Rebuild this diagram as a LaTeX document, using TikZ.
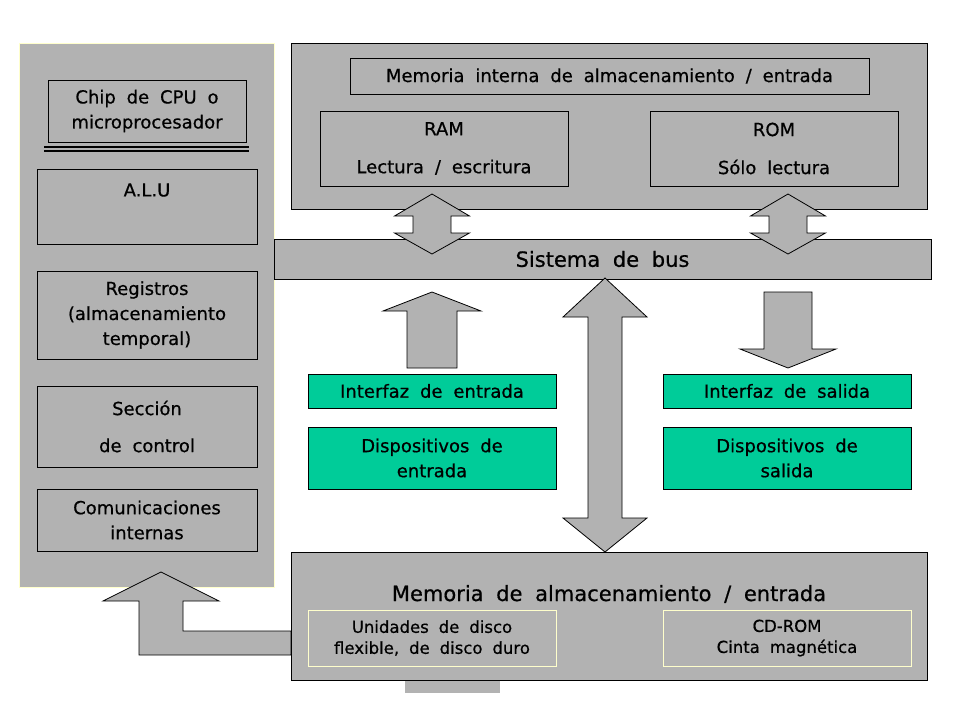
\documentclass[tikz,border=0pt]{standalone}
\usepackage{fontspec}
\setmainfont{DejaVu Sans}[WordSpace=1.9, FakeBold=0.6]
\definecolor{boxgray}{HTML}{B2B2B2}
\definecolor{devgreen}{HTML}{00CC99}
\definecolor{paleyellow}{HTML}{FFFFCC}
\begin{document}
\begin{tikzpicture}[
		x=1pt, y=-1pt,
		every node/.style={align=center, inner sep=0pt, font=\fontsize{18}{25}\selectfont},
		panel/.style={rectangle, draw=paleyellow, fill=boxgray, line width=0.8pt},
		graybox/.style={rectangle, draw=black, fill=boxgray, line width=0.8pt},
		greenbox/.style={rectangle, draw=black, fill=devgreen, line width=0.8pt},
		diskbox/.style={rectangle, draw=paleyellow, line width=0.8pt, font=\fontsize{16.5}{21}\selectfont},
		bigtext/.style={font=\fontsize{21}{25}\selectfont},
		blockarrow/.style={draw=black, fill=boxgray, line width=0.8pt, line join=miter}
	]
	\useasboundingbox (0,0) rectangle (960,720);

	% CPU side
	\node[panel, minimum width=255pt, minimum height=544pt] (cpu) at (146.5,315) {};
	\node[graybox, minimum width=198pt, minimum height=62pt] (chip) at (147,111) {Chip de CPU o\\microprocesador};
	\draw[line width=2pt] (44,147) -- (249,147);
	\draw[line width=2pt] (44,150.5) -- (249,150.5);
	\node[graybox, minimum width=220pt, minimum height=75pt] (alu) at (147,206.5) {};
	\node (alulabel) at (147,190) {A.L.U};
	\node[graybox, minimum width=220pt, minimum height=88pt] (reg) at (147,315) {Registros\\(almacenamiento\\temporal)};
	\node[graybox, minimum width=220pt, minimum height=81pt] (ctrl) at (147,426.5) {Sección\\[12pt]de control};
	\node[graybox, minimum width=220pt, minimum height=62pt] (com) at (147,520) {Comunicaciones\\internas};

	% internal memory
	\node[graybox, minimum width=636pt, minimum height=166pt] (intmem) at (609,126) {};
	\node[graybox, minimum width=519pt, minimum height=36pt] (intlabel) at (609.5,76) {Memoria interna de almacenamiento / entrada};
	\node[graybox, minimum width=248pt, minimum height=75pt] (ram) at (444,148.5) {RAM\\[13pt]Lectura / escritura};
	\node[graybox, minimum width=248pt, minimum height=75pt] (rom) at (774,148.5) {ROM\\[13pt]Sólo lectura};

	% bus
	\node[graybox, minimum width=657pt, minimum height=40pt, bigtext] (bus) at (602.5,259) {Sistema de bus};

	% input / output
	\node[greenbox, minimum width=248pt, minimum height=34pt] (inif) at (432,391) {Interfaz de entrada};
	\node[greenbox, minimum width=248pt, minimum height=34pt] (outif) at (787,391) {Interfaz de salida};
	\node[greenbox, minimum width=248pt, minimum height=62pt] (indev) at (432,458) {Dispositivos de\\entrada};
	\node[greenbox, minimum width=248pt, minimum height=62pt] (outdev) at (787,458) {Dispositivos de\\salida};

	% storage
	\fill[boxgray] (405,678) rectangle (500,693);
	\draw[blockarrow] (161,572) -- (219,601) -- (183,601) -- (183,631) -- (291,631)
		-- (291,655) -- (139,655) -- (139,601) -- (103,601) -- cycle;
	\node[graybox, minimum width=636pt, minimum height=128pt] (store) at (609,616) {};
	\node[bigtext] (storelabel) at (609,594) {Memoria de almacenamiento / entrada};
	\node[diskbox, minimum width=248pt, minimum height=56pt] (disk) at (432,638) {Unidades de disco\\flexible, de disco duro};
	\node[diskbox, minimum width=248pt, minimum height=56pt] (cdrom) at (787,638) {CD-ROM\\Cinta magnética};

	% block arrows
	\foreach \x in {432,788}
		\draw[blockarrow] (\x,194) -- (\x+37.5,216) -- (\x+19,216) -- (\x+19,233) -- (\x+37.5,233)
			-- (\x,254) -- (\x-37.5,233) -- (\x-19,233) -- (\x-19,216) -- (\x-37.5,216) -- cycle;
	\draw[blockarrow] (432,292) -- (481,311) -- (457,311) -- (457,368) -- (407,368) -- (407,311) -- (383,311) -- cycle;
	\draw[blockarrow] (788,368) -- (836,349) -- (812,349) -- (812,292) -- (764,292) -- (764,349) -- (740,349) -- cycle;
	\draw[blockarrow] (605,278) -- (647,317) -- (622,317) -- (622,518) -- (647,518)
		-- (605,552) -- (563,518) -- (588,518) -- (588,317) -- (563,317) -- cycle;

\end{tikzpicture}
\end{document}
